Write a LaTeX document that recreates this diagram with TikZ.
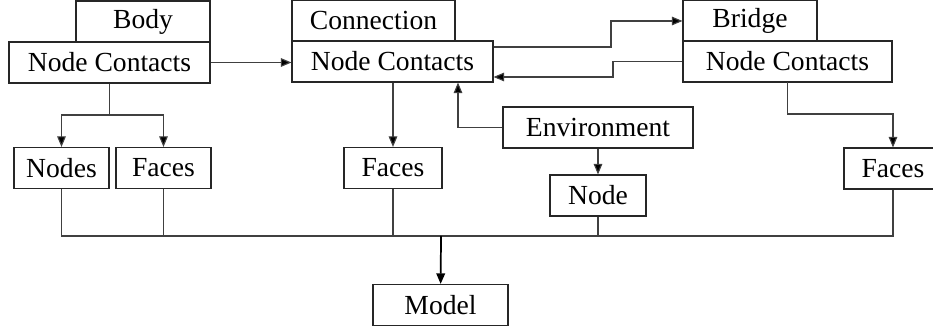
\documentclass[tikz,border=0pt]{standalone}
\usepackage{fontspec}
\setmainfont{Liberation Serif}
\usetikzlibrary{arrows.meta}
\begin{document}
\begin{tikzpicture}[x=0.75pt, y=-0.75pt, >={Triangle[length=8pt,width=6.5pt,fill=black]},
  every node/.style={font=\fontsize{20.7}{24}\selectfont},
  box/.style={draw=black!85, line width=0.8pt, minimum height=30.75pt, inner sep=0pt},
  link/.style={draw=black!75, line width=0.85pt}]
  \useasboundingbox (0,0) rectangle (933,334);
  % top row
  \node[box, minimum width=100.5pt] (body) at (143,21.5) {Body};
  \node[box, minimum width=150.75pt] (bodync) at (109.5,62.5) {Node Contacts};
  \node[box, minimum width=122.25pt] (conn) at (373.5,21) {Connection};
  \node[box, minimum width=150.75pt] (connnc) at (392.5,61.5) {Node Contacts};
  \node[box, minimum width=100.5pt] (bridge) at (750,21) {Bridge};
  \node[box, minimum width=156.75pt] (bridgenc) at (787.5,61.5) {Node Contacts};
  % middle
  \node[box, minimum width=142.5pt] (env) at (598,127.5) {Environment};
  \node[box, minimum width=72pt] (envnode) at (598,195.5) {Node};
  \node[box, minimum width=71.25pt] (nodes) at (61.5,168) {Nodes};
  \node[box, minimum width=71.25pt] (faces1) at (163.5,168) {Faces};
  \node[box, minimum width=73.5pt] (faces2) at (393,168) {Faces};
  \node[box, minimum width=73.5pt] (faces3) at (893,168.5) {Faces};
  \node[box, minimum width=101.25pt] (model) at (440.5,305) {Model};
  \coordinate (split) at (109.5,115);
  \coordinate (bus) at (441,236);
  % connectors
  \draw[link, ->] (bodync.east) -- (bodync.east -| connnc.west);
  \draw[link, ->] (connnc.east |- 0,47) -- (611,47) |- (bridge.west);
  \draw[link, ->] (bridgenc.west) -- (613,61.5) |- (connnc.east |- 0,77);
  \draw[link, ->] (env.west) -| (458,0 |- connnc.south);
  \draw[link, ->] (env) -- (envnode);
  \draw[link, ->] (faces2 |- connnc.south) -- (faces2);
  \draw[link] (bodync.south) -- (split);
  \draw[link, ->] (split) -| (nodes);
  \draw[link, ->] (split) -| (faces1);
  \draw[link, ->] (bridgenc.south |- 0,82) |- (788,114) -| (faces3);
  \draw[link] (nodes.south) -- (nodes |- bus) -- (faces3 |- bus) -- (faces3.south);
  \foreach \n in {faces1,faces2,envnode}
    \draw[link] (\n.south) -- (\n |- bus);
  \draw[->, line width=1.3pt] (bus) -- (model);
\end{tikzpicture}
\end{document}
